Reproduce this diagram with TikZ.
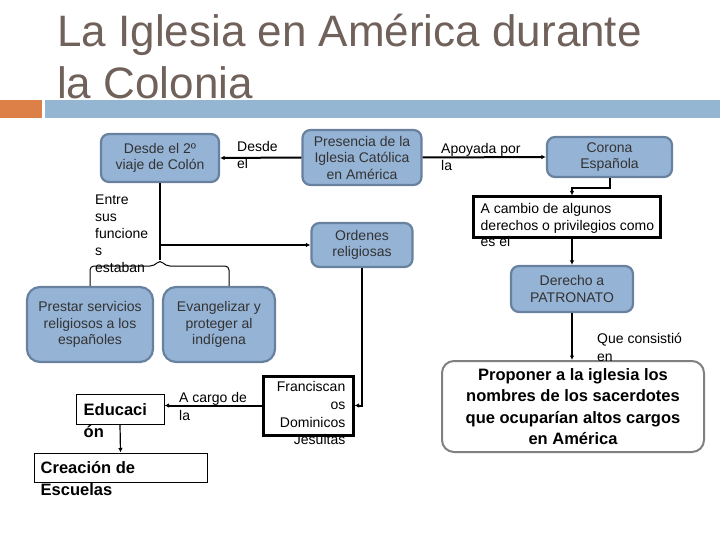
\documentclass[tikz,border=0pt]{standalone}
\usepackage{fontspec}
\setmainfont{Liberation Sans}
\usepackage{tikz}
\usetikzlibrary{positioning,arrows.meta}
\definecolor{titlegray}{RGB}{112,97,91}
\definecolor{barblue}{RGB}{148,182,210}
\definecolor{barorange}{RGB}{221,128,71}
\definecolor{boxfill}{RGB}{149,179,213}
\definecolor{boxedge}{RGB}{104,129,158}
\definecolor{framegray}{RGB}{128,128,128}

\begin{document}
\begin{tikzpicture}[x=1pt,y=-1pt,
    bluebox/.style={draw=boxedge,fill=boxfill,line width=2.2pt,rounded corners=8pt,
      align=center,inner sep=0pt,font=\fontsize{14}{16.5}\selectfont,text=black!80},
    plainbox/.style={draw=black,line width=1pt,inner sep=0pt},
    heavybox/.style={draw=black,line width=3pt,inner sep=0pt},
    lbl/.style={align=left,inner sep=0pt,font=\fontsize{14}{17}\selectfont},
    boldlbl/.style={align=left,inner sep=0pt,font=\fontsize{16.5}{22}\selectfont\bfseries},
    link/.style={line width=2pt,-{Latex[length=4.5pt,width=4.5pt]}},
    thinlink/.style={line width=1.2pt}]
  \useasboundingbox (0,0) rectangle (720,540);

  \node[anchor=base west,inner sep=0pt,text=titlegray,font=\fontsize{44}{50}\selectfont]
    (title1) at (57,47) {La Iglesia en América durante};
  \node[anchor=base west,inner sep=0pt,text=titlegray,font=\fontsize{44}{50}\selectfont]
    (title2) at (57,99) {la Colonia};
  \fill[barorange] (0,100) rectangle (42,118);
  \fill[barblue] (45,100) rectangle (720,118);

  \node[bluebox,minimum width=118,minimum height=48] (desde) at (160,158)
    {Desde el 2º\\viaje de Colón};
  \node[bluebox,minimum width=119,minimum height=55] (presencia) at (362,157.5)
    {Presencia de la\\Iglesia Católica\\en América};
  \node[bluebox,minimum width=125,minimum height=40] (corona) at (609.5,157)
    {Corona\\Española};
  \node[bluebox,minimum width=101,minimum height=44] (ordenes) at (362,245)
    {Ordenes\\religiosas};
  \node[bluebox,minimum width=122,minimum height=46] (derecho) at (572,289)
    {Derecho a\\PATRONATO};
  \node[bluebox,rounded corners=13pt,minimum width=126,minimum height=75] (prestar) at (90,324.5)
    {Prestar servicios\\religiosos a los\\españoles};
  \node[bluebox,rounded corners=13pt,minimum width=112,minimum height=75] (evang) at (219,324.5)
    {Evangelizar y\\proteger al\\indígena};

  \node[heavybox,minimum width=187,minimum height=40,
        label={[lbl,font=\fontsize{14}{16.3}\selectfont,anchor=north west,xshift=9pt,yshift=-8pt]north west:{A cambio de algunos\\derechos o privilegios como\\es el}}]
    (acambio) at (566.5,217) {};
  \node[heavybox,minimum width=90,minimum height=59,
        label={[lbl,align=right,font=\fontsize{14}{17.7}\selectfont,anchor=north east,xshift=-9pt,yshift=-7pt]north east:{Franciscan\\os\\Dominicos\\Jesuitas}}]
    (francis) at (308,405.5) {};
  \node[plainbox,minimum width=88,minimum height=30,
        label={[boldlbl,anchor=north west,xshift=8pt,yshift=-10pt]north west:{Educaci\\ón}}]
    (educ) at (120,409) {};
  \node[plainbox,minimum width=173,minimum height=29,
        label={[boldlbl,anchor=north west,xshift=7pt,yshift=-9pt]north west:{Creación de\\Escuelas}}]
    (creacion) at (120.5,467.5) {};
  \node[draw=framegray,line width=2pt,fill=white,rounded corners=12pt,inner sep=0pt,
        minimum width=262,minimum height=91,align=center,
        font=\fontsize{16.5}{21.3}\selectfont\bfseries] (proponer) at (573,406.5)
    {Proponer a la iglesia los\\nombres de los sacerdotes\\que ocuparían altos cargos\\en América};

  \node[lbl,anchor=north west] (lbldesde) at (237,141) {Desde\\el};
  \node[lbl,anchor=north west,font=\fontsize{14}{16.8}\selectfont] (lblentre) at (95,195)
    {Entre\\sus\\funcione\\s\\estaban};
  \node[lbl,anchor=north west,font=\fontsize{14}{18}\selectfont] (lblcargo) at (179,392)
    {A cargo de\\la};
  \node[lbl,anchor=north west] (lblapoyada) at (441,143) {Apoyada por\\la};
  \node[lbl,anchor=north west,font=\fontsize{14}{18}\selectfont] (lblque) at (597,333)
    {Que consistió\\en};

  \coordinate (tip) at (160,260);
  \draw[link] (presencia.west) -- (desde.east);
  \draw[thinlink] (desde.south) -- (tip);
  \draw[link] (desde.south |- ordenes.west) -- (ordenes.west);
  \draw[line width=1pt,rounded corners=4pt] (prestar.north) -- (90,266) -- (154,266) -- (tip)
    -- (166,266) -- (229,266) -- ([xshift=10pt]evang.north);
  \draw[link] (ordenes.south) |- (francis.east);
  \draw[link] (francis.west) -- (francis.west -| educ.east);
  \draw[thinlink,-{Latex[length=4.5pt,width=4.5pt]}] (educ.south) -- (creacion.north);
  \draw[link] (presencia.east) -- (corona.west);
  \draw[link] (corona.south) -- ++(0,10) -| (derecho.north |- acambio.north);
  \draw[link] (acambio.south -| derecho.north) -- (derecho.north);
  \draw[link] (derecho.south) -- (proponer.north -| derecho.south);
\end{tikzpicture}
\end{document}
